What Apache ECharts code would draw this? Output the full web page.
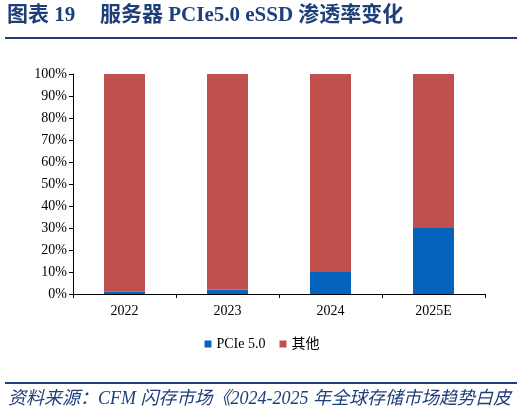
<!DOCTYPE html>
<html>
<head>
<meta charset="utf-8">
<script src="https://cdn.jsdelivr.net/npm/echarts@6/dist/echarts.min.js"></script>
<style>
  html, body { margin: 0; padding: 0; background: #fff; }
  #chart { width: 524px; height: 415px; }
</style>
</head>
<body>
<div id="chart"></div>
<script>
    // 数据
    var years = ['2022', '2023', '2024', '2025E'];
    var pcie5 = [1, 2, 10, 30];
    var others = [99, 98, 90, 70];
    var legendNames = ['PCIe 5.0', '其他'];

    var navy = '#1F3F7A';
    var serif = '"Liberation Serif", "Times New Roman", "Noto Sans CJK SC", serif';
    var titleFont = 'bold 21px "Liberation Serif", "Noto Sans CJK SC", serif';

    var myChart = echarts.init(document.getElementById('chart'));
    var option = {
        animation: false,
        backgroundColor: '#fff',
        graphic: [
            {
                type: 'text', left: 7, top: 5,
                style: { text: '图表 19', fill: navy, font: titleFont }
            },
            {
                type: 'text', left: 100, top: 5,
                style: { text: '服务器 PCIe5.0 eSSD 渗透率变化', fill: navy, font: titleFont }
            },
            {
                type: 'rect', shape: { x: 5, y: 37, width: 512, height: 2 },
                style: { fill: navy }
            },
            {
                type: 'rect', shape: { x: 5, y: 382, width: 512, height: 2 },
                style: { fill: navy }
            },
            {
                type: 'text', left: 8, top: 390,
                style: {
                    text: '资料来源：CFM 闪存市场《2024-2025 年全球存储市场趋势白皮',
                    fill: navy,
                    font: 'italic 18px "Liberation Serif", "Noto Sans CJK SC", serif'
                }
            }
        ],
        legend: {
            data: legendNames,
            bottom: 59,
            left: 'center',
            itemWidth: 7,
            itemHeight: 7,
            itemGap: 14,
            icon: 'rect',
            textStyle: { color: '#000', fontSize: 14, fontFamily: serif }
        },
        grid: { left: 73, right: 39, top: 74, bottom: 121 },
        xAxis: {
            type: 'category',
            data: years,
            axisLine: { lineStyle: { color: '#000', width: 1 } },
            axisTick: { show: true, length: 4, lineStyle: { color: '#000' } },
            axisLabel: { color: '#000', fontSize: 14, fontFamily: serif, margin: 10 }
        },
        yAxis: {
            type: 'value',
            min: 0, max: 100, interval: 10,
            splitLine: { show: false },
            axisLine: { show: true, lineStyle: { color: '#000', width: 1 } },
            axisTick: { show: true, length: 4, lineStyle: { color: '#000' } },
            axisLabel: { color: '#000', fontSize: 14, fontFamily: serif, margin: 6, formatter: '{value}%' }
        },
        series: [
            {
                name: legendNames[0], type: 'bar', stack: 'total',
                barWidth: 41,
                itemStyle: { color: '#0563BB' },
                data: pcie5
            },
            {
                name: legendNames[1], type: 'bar', stack: 'total',
                barWidth: 41,
                itemStyle: { color: '#C0504D' },
                data: others
            }
        ]
    };
    myChart.setOption(option);
</script>
</body>
</html>
